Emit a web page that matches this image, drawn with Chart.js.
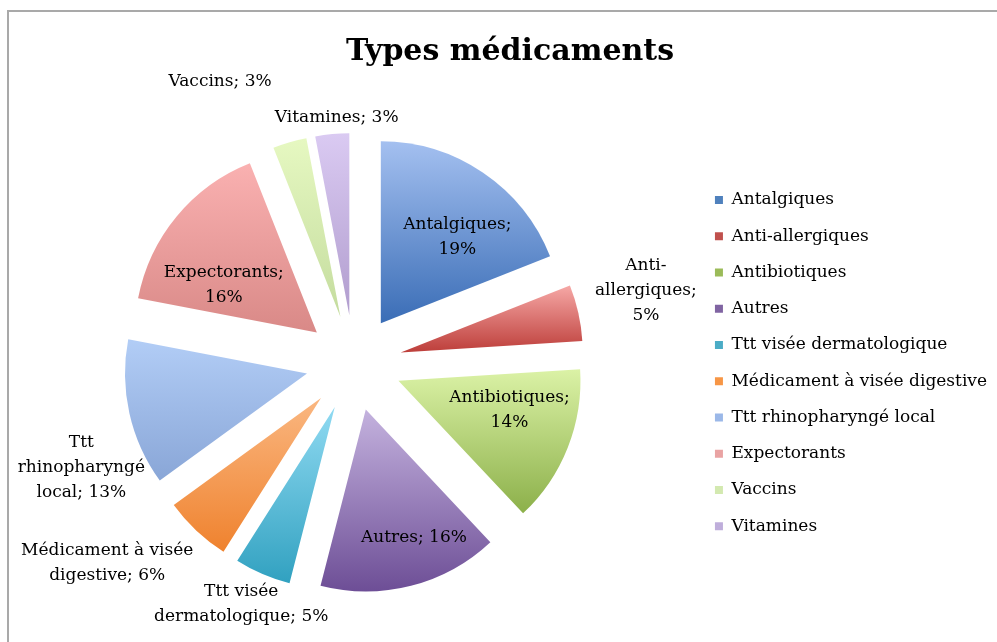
<!DOCTYPE html>
<html lang="fr">
<head>
<meta charset="UTF-8">
<title>Types médicaments</title>
<script src="https://cdn.jsdelivr.net/npm/chart.js"></script>
<style>
  body { margin: 0; background: #fff; overflow: hidden; }
  .wrap { position: relative; width: 997px; height: 642px; overflow: hidden; }
  .frame {
    position: absolute; left: 7px; top: 10px; right: -20px; bottom: -20px;
    border-top: 2px solid #a9a9a9; border-left: 2px solid #a9a9a9;
  }
  canvas { position: absolute; left: 0; top: 0; }
</style>
</head>
<body>
<div class="wrap">
  <div class="frame"></div>
  <canvas id="pie" width="997" height="642"></canvas>
</div>
<script>
// data
const categories = ['Antalgiques', 'Anti-allergiques', 'Antibiotiques', 'Autres',
  'Ttt visée dermatologique', 'Médicament à visée digestive', 'Ttt rhinopharyngé local',
  'Expectorants', 'Vaccins', 'Vitamines'];
const percents = [19, 5, 14, 16, 5, 6, 13, 16, 3, 3];
const labelLines = [
  ['Antalgiques;', '19%'],
  ['Anti-', 'allergiques;', '5%'],
  ['Antibiotiques;', '14%'],
  ['Autres; 16%'],
  ['Ttt visée', 'dermatologique; 5%'],
  ['Médicament à visée', 'digestive; 6%'],
  ['Ttt', 'rhinopharyngé', 'local; 13%'],
  ['Expectorants;', '16%'],
  ['Vaccins; 3%'],
  ['Vitamines; 3%']
];

// styles
const legendColors = ['#4f81bd', '#c0504d', '#9bbb59', '#8064a2', '#4bacc6',
  '#f79646', '#9bb8e8', '#e9a3a3', '#d3e9b0', '#bfaedb'];
const colorTop = ['#a4c0f0', '#f6a8a6', '#dbf2a6', '#c4b2de', '#90daf2',
  '#fab781', '#b2cdf6', '#fab1b1', '#e6f8c1', '#dacaf2'];
const colorBottom = ['#3a6db6', '#bd3e3a', '#8cb04a', '#6d4e96', '#31a1c0',
  '#ef822e', '#89a6d7', '#d98987', '#c4dc9e', '#b19dce'];
// label placement: distance in radii beyond the explode gap, angle nudge in degrees
const labelDist = [0.63, 1.39, 0.63, 0.75, 1.20, 1.48, 1.34, 0.57, 1.45, 1.09];
const labelNudge = [5.3, -1.4, -4.7, -4.6, 1.6, 7.8, -8.4, -8.6, -9.2, 1.4];
const explode = 48;
const labelFont = '17px "DejaVu Serif"';

function sliceGradient(ctx, arc, i) {
  const a0 = arc.startAngle, a1 = arc.endAngle, r = arc.outerRadius;
  const ys = [arc.y, arc.y + Math.sin(a0) * r, arc.y + Math.sin(a1) * r];
  [-Math.PI / 2, Math.PI / 2, 3 * Math.PI / 2].forEach(k => {
    if (k > a0 && k < a1) ys.push(arc.y + Math.sin(k) * r);
  });
  const g = ctx.createLinearGradient(0, Math.min(...ys), 0, Math.max(...ys));
  g.addColorStop(0, colorTop[i]);
  g.addColorStop(1, colorBottom[i]);
  return g;
}

// draws the slices pulled away from the centre
const explodedSlices = {
  id: 'explodedSlices',
  beforeDatasetDraw(chart, args) {
    const ctx = chart.ctx;
    args.meta.data.forEach((arc, i) => {
      const mid = (arc.startAngle + arc.endAngle) / 2;
      arc.options = Object.assign({}, arc.options, { backgroundColor: sliceGradient(ctx, arc, i) });
      ctx.save();
      ctx.translate(Math.cos(mid) * explode, Math.sin(mid) * explode);
      arc.draw(ctx);
      ctx.restore();
    });
    return false;
  }
};

const sliceLabels = {
  id: 'sliceLabels',
  afterDatasetsDraw(chart) {
    const ctx = chart.ctx;
    const meta = chart.getDatasetMeta(0);
    ctx.save();
    ctx.font = labelFont;
    ctx.fillStyle = '#000';
    ctx.textAlign = 'center';
    ctx.textBaseline = 'middle';
    meta.data.forEach((arc, i) => {
      const mid = (arc.startAngle + arc.endAngle) / 2 + labelNudge[i] * Math.PI / 180;
      const d = explode + labelDist[i] * arc.outerRadius;
      const x = arc.x + Math.cos(mid) * d;
      const y = arc.y + Math.sin(mid) * d;
      const lines = labelLines[i];
      const lh = 25;
      lines.forEach((t, j) => {
        ctx.fillText(t, x, y + (j - (lines.length - 1) / 2) * lh);
      });
    });
    ctx.restore();
  }
};

const chartTitle = {
  id: 'chartTitle',
  afterDraw(chart) {
    const ctx = chart.ctx;
    ctx.save();
    ctx.font = 'bold 30px "DejaVu Serif"';
    ctx.fillStyle = '#000';
    ctx.textAlign = 'center';
    ctx.textBaseline = 'alphabetic';
    ctx.fillText('Types médicaments', 510, 60);
    ctx.restore();
  }
};

new Chart(document.getElementById('pie'), {
  type: 'pie',
  data: {
    labels: categories,
    datasets: [{
      data: percents,
      backgroundColor: legendColors,
      borderWidth: 0,
      radius: 182
    }]
  },
  options: {
    responsive: false,
    animation: false,
    events: [],
    layout: { padding: { left: 12, right: 0, top: 84, bottom: 0 } },
    plugins: {
      title: { display: false },
      tooltip: { enabled: false },
      legend: {
        position: 'right',
        align: 'center',
        labels: {
          font: { family: 'DejaVu Serif', size: 17 },
          color: '#000',
          boxWidth: 8,
          boxHeight: 8,
          padding: 19.25
        }
      }
    }
  },
  plugins: [explodedSlices, sliceLabels, chartTitle]
});
</script>
</body>
</html>
